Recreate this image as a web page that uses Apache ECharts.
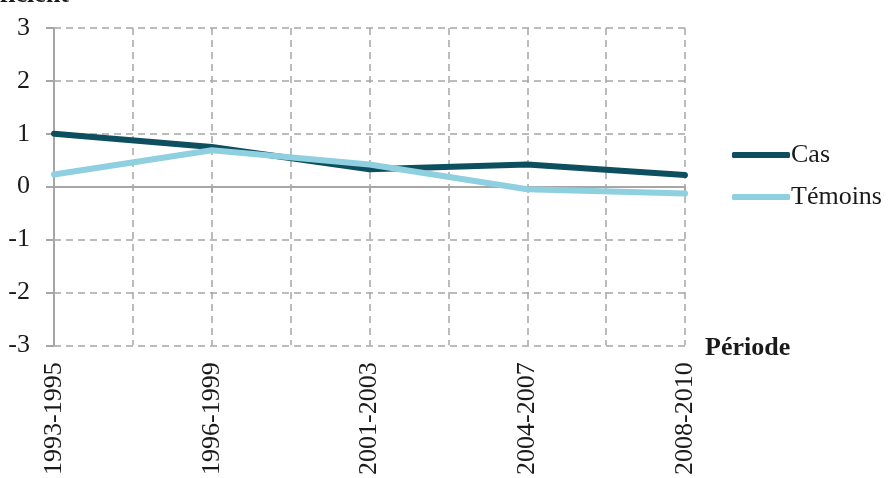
<!DOCTYPE html>
<html>
<head>
<meta charset="utf-8">
<script src="https://cdn.jsdelivr.net/npm/echarts@6/dist/echarts.min.js"></script>
<style>
  html, body { margin: 0; padding: 0; background: #fff; }
  #chart { width: 888px; height: 478px; }
</style>
</head>
<body>
<div id="chart"></div>
<script>
// periods on the x axis
const periods = ['1993-1995', '1996-1999', '2001-2003', '2004-2007', '2008-2010']
// coefficients
const cas = [1.0, 0.75, 0.33, 0.42, 0.22]
const temoins = [0.23, 0.69, 0.42, -0.05, -0.13]
const yTicks = [-3, 3, 1]   // min, max, step

const font = 'Liberation Serif'
const grey = '#a6a6a6'
const ink = '#1a1a1a'

const chart = echarts.init(document.getElementById('chart'))

chart.setOption({
  animation: false,
  textStyle: { fontFamily: font },
  graphic: [{
    // y axis title, mostly cut off by the top edge as in the source
    type: 'text',
    x: 69,
    y: -18,
    z: 100,
    style: {
      text: 'Coefficient',
      fontFamily: font,
      fontSize: 26,
      fontWeight: 'bold',
      fill: ink,
      align: 'right',
      verticalAlign: 'top'
    }
  }],
  legend: {
    orient: 'vertical',
    left: 727,
    top: 137,
    itemWidth: 58,
    itemHeight: 6,
    itemGap: 16,
    icon: 'roundRect',
    textStyle: { fontFamily: font, fontSize: 26, color: ink, padding: [0, 0, 0, -4] },
    data: ['Cas', 'Témoins']
  },
  grid: { left: 54, right: 203, top: 28, bottom: 131 },
  xAxis: [
    {
      // zero line with ticks
      type: 'value',
      min: 0, max: periods.length - 1, interval: 1,
      axisLine: { onZero: true, lineStyle: { color: grey, width: 2 } },
      axisTick: { show: true, length: 6, lineStyle: { color: grey, width: 2 } },
      axisLabel: { show: false },
      splitLine: { show: false }
    },
    {
      // bottom labels and dashed verticals
      type: 'value',
      position: 'bottom',
      min: 0, max: periods.length - 1, interval: 0.5,
      axisLine: { show: false, onZero: false },
      axisTick: { show: false },
      splitLine: { show: true, lineStyle: { color: grey, width: 1.5, type: [7, 5] } },
      axisLabel: {
        rotate: 90,
        margin: 17,
        fontFamily: font,
        fontSize: 26,
        color: ink,
        formatter: v => Number.isInteger(v) ? periods[v] : ''
      },
      name: 'Période',
      nameLocation: 'end',
      nameGap: 20,
      nameTextStyle: { fontFamily: font, fontSize: 26, fontWeight: 'bold', color: ink, verticalAlign: 'top', padding: [-10, 0, 0, 0] }
    }
  ],
  yAxis: {
    type: 'value',
    min: yTicks[0], max: yTicks[1], interval: yTicks[2],
    axisLine: { show: true, lineStyle: { color: grey, width: 2 } },
    axisTick: { show: true, length: 8, lineStyle: { color: grey, width: 2 } },
    axisLabel: { fontFamily: font, fontSize: 26, color: ink, margin: 24 },
    splitLine: { show: true, lineStyle: { color: grey, width: 1.5, type: [7, 5] } }
  },
  series: [
    {
      name: 'Cas',
      type: 'line',
      xAxisIndex: 0,
      data: cas.map((v, i) => [i, v]),
      showSymbol: false,
      symbol: 'none',
      lineStyle: { color: '#0d4f5e', width: 6, cap: 'round' },
      itemStyle: { color: '#0d4f5e' }
    },
    {
      name: 'Témoins',
      type: 'line',
      xAxisIndex: 0,
      data: temoins.map((v, i) => [i, v]),
      showSymbol: false,
      symbol: 'none',
      lineStyle: { color: '#8ecfe0', width: 6, cap: 'round' },
      itemStyle: { color: '#8ecfe0' }
    }
  ]
})
</script>
</body>
</html>
